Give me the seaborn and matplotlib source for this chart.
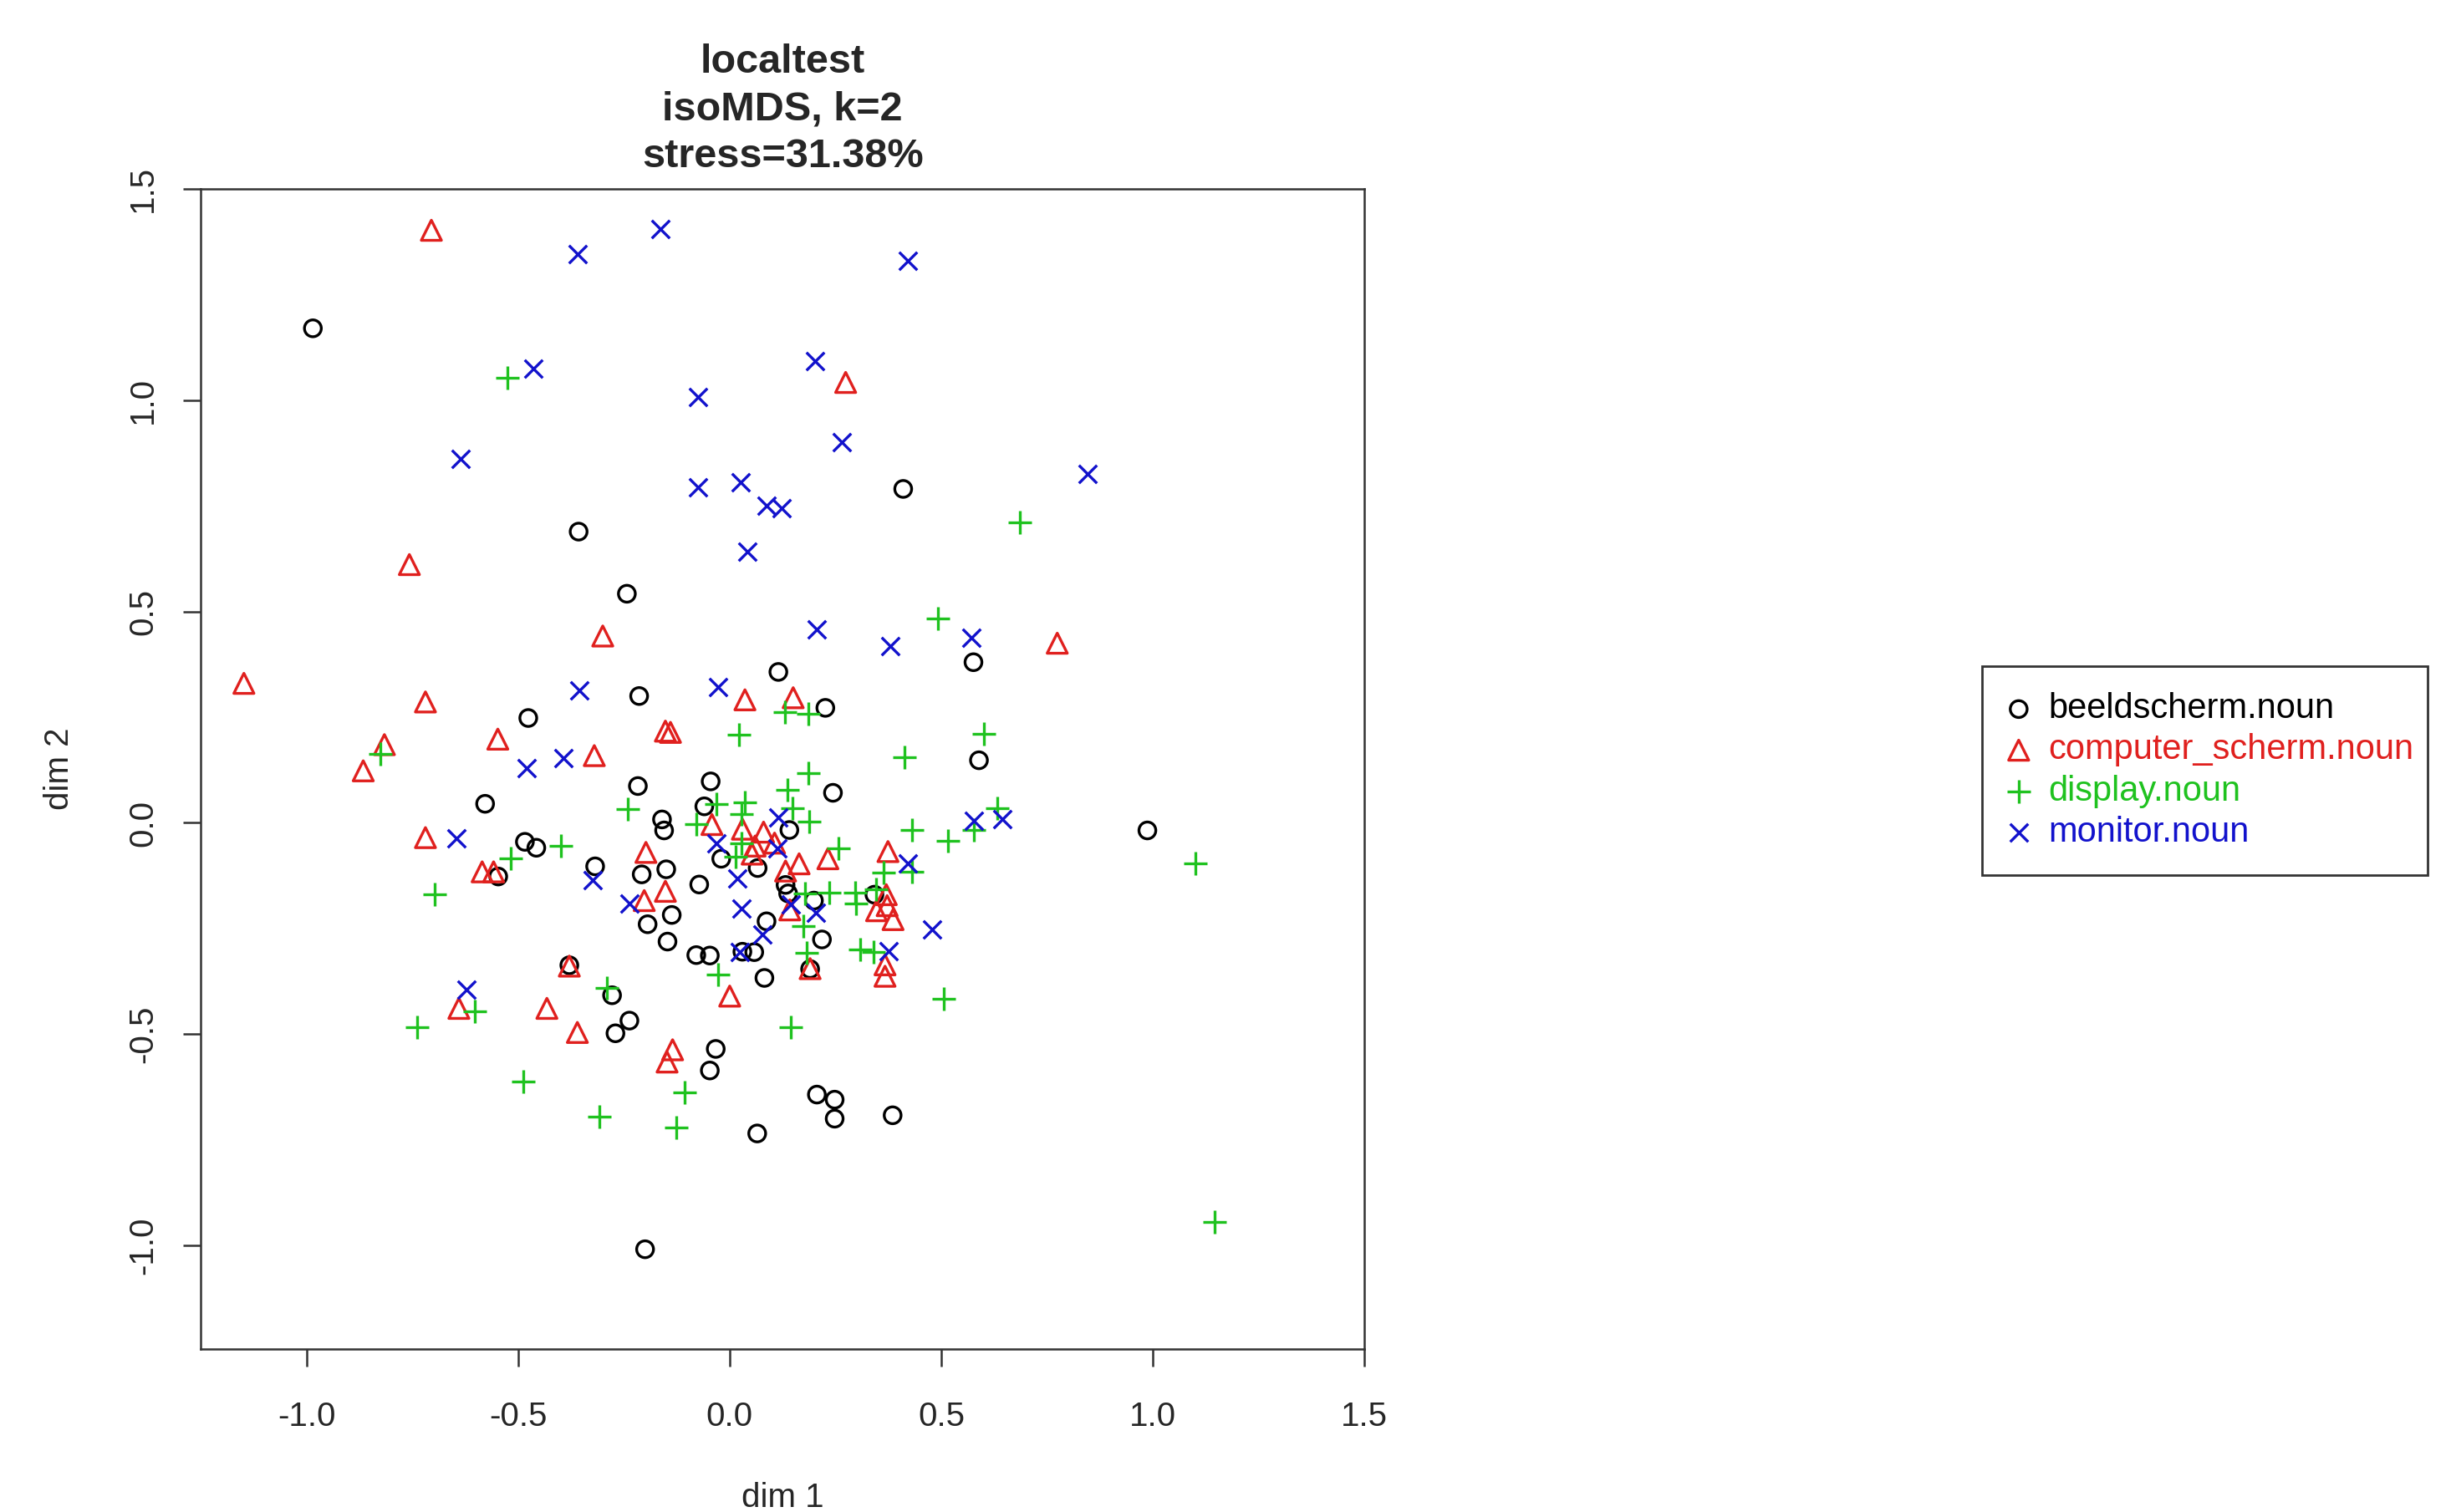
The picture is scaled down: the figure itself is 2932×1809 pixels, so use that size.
import matplotlib

matplotlib.use("Agg")
import matplotlib.pyplot as plt
import numpy as np
import pandas as pd
import seaborn as sns
from matplotlib.ticker import FormatStrFormatter

# --- data (dim 1, dim 2) ---
beeldscherm_x = [-0.985, 0.41, -0.357, -0.243, 0.576, 0.115, -0.214, 0.226, -0.476, 0.589,
                 0.987, -0.045, -0.217, 0.244, -0.578, -0.06, -0.16, -0.155, 0.141, -0.484,
                 -0.457, -0.547, -0.318, -0.02, 0.066, -0.208, -0.15, -0.072, 0.132, 0.138,
                 0.342, 0.199, -0.137, -0.194, 0.087, -0.147, 0.218, -0.079, -0.047, 0.03,
                 0.058, 0.19, 0.082, -0.379, -0.278, -0.237, -0.27, -0.033, -0.047, 0.206,
                 0.248, 0.248, 0.385, 0.065, -0.2]
beeldscherm_y = [1.17, 0.79, 0.689, 0.542, 0.38, 0.357, 0.300, 0.272, 0.248, 0.148,
                 -0.018, 0.098, 0.087, 0.071, 0.045, 0.039, 0.008, -0.018, -0.017, -0.045,
                 -0.059, -0.127, -0.103, -0.085, -0.107, -0.122, -0.11, -0.146, -0.147, -0.167,
                 -0.17, -0.184, -0.218, -0.24, -0.233, -0.281, -0.276, -0.313, -0.314, -0.305,
                 -0.306, -0.346, -0.367, -0.337, -0.408, -0.468, -0.498, -0.535, -0.586, -0.643,
                 -0.655, -0.7, -0.692, -0.735, -1.009]

computer_x = [-0.705, 0.274, -0.757, -0.3, 0.774, -1.148, 0.036, 0.15, -0.719, -0.152,
              -0.14, -0.548, -0.816, -0.32, -0.866, -0.719, -0.585, -0.558, -0.198, -0.152,
              -0.202, -0.042, 0.03, 0.06, 0.08, 0.106, 0.053, 0.164, 0.232, 0.132,
              0.374, 0.37, 0.372, 0.347, 0.386, 0.142, 0.19, 0.367, 0.367, 0.0,
              -0.379, -0.64, -0.432, -0.36, -0.135, -0.148]
computer_y = [1.402, 1.042, 0.611, 0.442, 0.425, 0.33, 0.291, 0.296, 0.286, 0.217,
              0.214, 0.198, 0.185, 0.159, 0.123, -0.035, -0.116, -0.116, -0.07, -0.162,
              -0.184, -0.004, -0.015, -0.055, -0.022, -0.048, -0.074, -0.097, -0.085, -0.114,
              -0.068, -0.17, -0.196, -0.208, -0.229, -0.206, -0.345, -0.336, -0.363, -0.41,
              -0.339, -0.439, -0.439, -0.496, -0.537, -0.566]

display_x = [-0.525, 0.685, 0.493, 0.022, 0.6, 0.131, 0.185, -0.825, 0.413, 0.185,
             0.136, -0.24, -0.032, 0.035, 0.028, 0.149, 0.188, -0.078, 0.633, 0.43,
             0.515, 0.577, -0.399, -0.518, -0.698, 0.027, 0.014, 0.257, 0.363, 0.43,
             0.236, 0.178, 0.296, 0.298, 0.345, 0.175, 0.181, 0.309, 0.34, -0.027,
             -0.29, 0.506, -0.603, -0.738, 0.144, -0.488, -0.107, -0.308, -0.127, 1.1,
             1.145]
display_y = [1.053, 0.71, 0.483, 0.209, 0.21, 0.261, 0.258, 0.163, 0.156, 0.117,
             0.078, 0.033, 0.045, 0.048, 0.02, 0.034, 0.002, -0.003, 0.035, -0.016,
             -0.043, -0.017, -0.055, -0.085, -0.17, -0.048, -0.081, -0.06, -0.118, -0.116,
             -0.165, -0.167, -0.165, -0.19, -0.157, -0.245, -0.307, -0.3, -0.305, -0.36,
             -0.39, -0.416, -0.447, -0.484, -0.483, -0.612, -0.638, -0.695, -0.721, -0.096,
             -0.945]

monitor_x = [-0.163, -0.36, 0.42, 0.202, -0.465, -0.075, 0.265, -0.635, 0.846, -0.075,
             0.026, 0.088, 0.123, 0.042, 0.206, 0.379, 0.571, -0.355, -0.028, -0.392,
             -0.48, -0.645, -0.324, -0.237, 0.115, -0.032, 0.113, 0.017, 0.028, 0.077,
             0.024, 0.145, 0.204, 0.421, 0.577, 0.644, 0.479, 0.376, -0.622]
monitor_y = [1.405, 1.346, 1.33, 1.092, 1.075, 1.007, 0.9, 0.861, 0.826, 0.793,
             0.806, 0.75, 0.745, 0.641, 0.457, 0.418, 0.437, 0.313, 0.322, 0.154,
             0.13, -0.036, -0.135, -0.19, 0.012, -0.048, -0.061, -0.131, -0.202, -0.265,
             -0.305, -0.193, -0.212, -0.097, 0.005, 0.008, -0.252, -0.304, -0.395]

labels = ["beeldscherm.noun", "computer_scherm.noun", "display.noun", "monitor.noun"]
xs = [beeldscherm_x, computer_x, display_x, monitor_x]
ys = [beeldscherm_y, computer_y, display_y, monitor_y]
colors = ["black", "#E0201E", "#1FC21F", "#1212CC"]
markers = ["o", "^", "+", "x"]
sizes = [210, 300, 400, 240]
hollow = [True, True, False, False]

x_ticks = [-1.0, -0.5, 0.0, 0.5, 1.0, 1.5]
y_ticks = [-1.0, -0.5, 0.0, 0.5, 1.0, 1.5]

sns.set_style("ticks")
plt.rcParams["font.family"] = ["Liberation Sans", "DejaVu Sans"]
plt.rcParams["axes.unicode_minus"] = False

fig = plt.figure(figsize=(29.32, 18.09), dpi=100)
ax = fig.add_axes([0.0819, 0.1078, 0.4748, 0.7673])

for lab, x, y, col, m, s, h in zip(labels, xs, ys, colors, markers, sizes, hollow):
    df = pd.DataFrame({"dim1": x, "dim2": y})
    if h:
        sns.scatterplot(data=df, x="dim1", y="dim2", marker=m, s=s, fc="none", ec=col,
                        linewidth=2.4, ax=ax, label=lab, legend=False)
    else:
        sns.scatterplot(data=df, x="dim1", y="dim2", marker=m, s=s, color=col,
                        linewidth=2.4, ax=ax, label=lab, legend=False)

ax.set_xlim(-1.25, 1.5)
ax.set_ylim(-1.245, 1.5)
ax.set_xticks(x_ticks)
ax.set_yticks(y_ticks)
ax.xaxis.set_major_formatter(FormatStrFormatter("%.1f"))
ax.yaxis.set_major_formatter(FormatStrFormatter("%.1f"))
ax.tick_params(axis="x", length=15, width=1.8, pad=30, labelsize=29, color="#333333")
ax.tick_params(axis="y", length=15, width=1.8, pad=21, labelsize=29, color="#333333",
               labelrotation=90)
for t in ax.get_yticklabels():
    t.set_va("center")
for sp in ax.spines.values():
    sp.set_visible(True)
    sp.set_linewidth(1.8)
    sp.set_color("#333333")

ax.set_xlabel("dim 1", fontsize=29, va="center")
ax.set_ylabel("dim 2", fontsize=29, va="center", ha="center")
ax.xaxis.set_label_coords(0.5, -0.128)
ax.yaxis.set_label_coords(-0.1214, 0.5)

ax.set_title("localtest\nisoMDS, k=2\nstress=31.38%", fontsize=35, fontweight="bold",
             pad=19, linespacing=1.32)

handles = ax.collections[:4]
leg = fig.legend(handles, labels, loc="upper left",
                 bbox_to_anchor=(0.8087, 0.4251, 0.1817, 0.1343), mode="expand",
                 frameon=True, fancybox=False, edgecolor="black", fontsize=30,
                 borderpad=0.75, labelspacing=0.22, handlelength=0.6, handletextpad=0.55,
                 borderaxespad=0, scatterpoints=1)
leg.get_frame().set_linewidth(2)
for txt, col in zip(leg.get_texts(), colors):
    txt.set_color(col)

fig.savefig("out.png", dpi=100, facecolor="white")
plt.close(fig)
